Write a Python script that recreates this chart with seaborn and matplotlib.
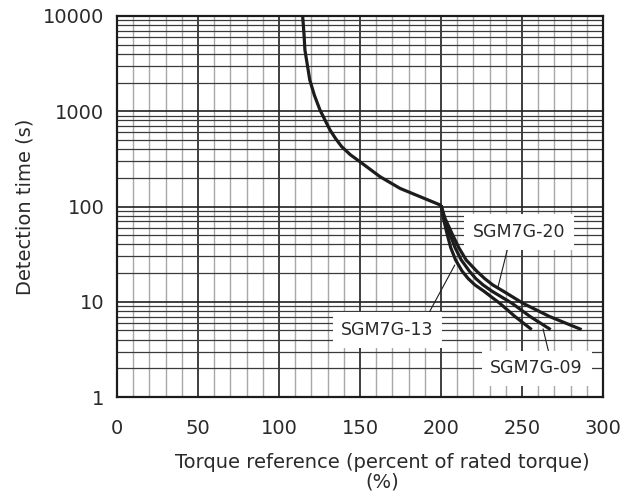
import numpy as np
import pandas as pd
import matplotlib
matplotlib.use('Agg')
import matplotlib.pyplot as plt
from matplotlib.ticker import FixedLocator, NullFormatter
import seaborn as sns

sns.set_style('white')
plt.rcParams['font.family'] = ['DejaVu Sans']

# common curve down to the 200 % breakpoint
main_x = [114.6, 115.4, 116.0, 117.5, 119.0, 121.8, 125.3, 131.5, 135.0, 138.7, 144.0, 150.0,
          162.3, 174.7, 187.0, 200.0]
main_y = [10000, 6580, 4400, 3060, 2130, 1480, 1030, 635, 515, 425, 350, 295,
          206, 155, 127, 103]

# branches above 200 %
branch_y = [103, 75, 52, 37, 27.5, 21, 17.5, 15, 12.9, 9.6, 7.0, 5.1]
sgm13_x = [200.0, 201.5, 203.7, 206.0, 209.0, 213.0, 216.8, 221.0, 226.5, 236.4, 245.7, 256.0]
sgm09_x = [200.0, 202.0, 205.3, 208.7, 212.5, 217.5, 221.5, 226.0, 231.5, 244.0, 255.0, 267.7]
sgm20_x = [200.0, 202.5, 206.8, 211.0, 215.5, 222.0, 227.0, 232.0, 238.5, 250.8, 267.0, 286.8]

x_ticks = [0, 50, 100, 150, 200, 250, 300]
y_ticks = [1, 10, 100, 1000, 10000]
y_labels = ['1', '10', '100', '1000', '10000']

ink = '#1c1c1c'
txt = '#2a2a2a'

rows = []
for x, y in zip(main_x, main_y):
    rows.append(('main', x, y))
for name, xs in [('SGM7G-13', sgm13_x), ('SGM7G-09', sgm09_x), ('SGM7G-20', sgm20_x)]:
    for x, y in zip(xs, branch_y):
        rows.append((name, x, y))
df = pd.DataFrame(rows, columns=['curve', 'torque', 'time'])

fig = plt.figure(figsize=(6.27, 5.03), dpi=100)
ax = fig.add_axes([0.1866, 0.2107, 0.7751, 0.7575])

ax.set_yscale('log')
ax.set_xlim(0, 300)
ax.set_ylim(1, 10000)

# grid
ax.xaxis.set_major_locator(FixedLocator(x_ticks))
ax.xaxis.set_minor_locator(FixedLocator(np.arange(0, 301, 10)))
ax.yaxis.set_major_locator(FixedLocator(y_ticks))
ax.yaxis.set_minor_locator(FixedLocator([m * 10 ** d for d in range(4) for m in range(2, 10)]))
ax.yaxis.set_minor_formatter(NullFormatter())
ax.grid(which='minor', axis='x', color='#a8a8a8', lw=1.0)
ax.grid(which='major', axis='x', color='#303030', lw=1.3)
ax.grid(which='minor', axis='y', color='#3a3a3a', lw=0.9)
ax.grid(which='major', axis='y', color='#202020', lw=1.2)
ax.set_axisbelow(True)

for name, grp in df.groupby('curve', sort=False):
    sns.lineplot(data=grp, x='torque', y='time', ax=ax, color=ink, lw=2.3,
                 sort=False, estimator=None, legend=False, solid_capstyle='butt',
                 solid_joinstyle='round')

ax.set_xticklabels([str(t) for t in x_ticks])
ax.set_yticklabels(y_labels)
ax.tick_params(axis='x', which='both', length=0, pad=16, labelsize=14, labelcolor=txt)
ax.tick_params(axis='y', which='both', length=0, pad=9, labelsize=14, labelcolor=txt)

for s in ax.spines.values():
    s.set_color(ink)
    s.set_linewidth(1.6)

ax.set_xlabel('Torque reference (percent of rated torque)\n(%)', fontsize=14,
              color=txt, linespacing=1.0, va='top')
ax.xaxis.set_label_coords(0.545, -0.147)
ax.set_ylabel('Detection time (s)', fontsize=14, color=txt)
ax.yaxis.set_label_coords(-0.17, 0.5)

box = dict(boxstyle='square,pad=0.5', fc='white', ec='none')
line = dict(arrowstyle='-', color=ink, lw=0.8, shrinkA=0, shrinkB=0)
ax.annotate('SGM7G-20', xy=(235.2, 14.3), xytext=(248, 54), fontsize=12.5, color=txt,
            ha='center', va='center', bbox=box, arrowprops=dict(line, relpos=(0.4, 0)))
ax.annotate('SGM7G-13', xy=(208.5, 24.3), xytext=(167, 5.05), fontsize=12.5, color=txt,
            ha='center', va='center', bbox=box, arrowprops=dict(line, relpos=(0.9, 1)))
ax.annotate('SGM7G-09', xy=(263.0, 5.2), xytext=(259, 2.0), fontsize=12.5, color=txt,
            ha='center', va='center', bbox=box, arrowprops=dict(line, relpos=(0.65, 1)))

plt.savefig('out.png', dpi=100)
plt.close(fig)
